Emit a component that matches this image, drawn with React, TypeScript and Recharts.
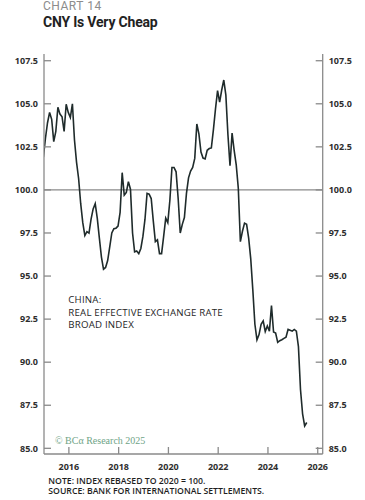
import { LineChart, Line, XAxis, YAxis, ReferenceLine } from 'recharts';

// China REER (broad, 2020 = 100), monthly readings
const reer2014 = [101.9]; // Dec only
const reer2015 = [103.0, 103.9, 104.5, 104.1, 102.8, 103.4, 104.8, 104.4, 104.25, 103.4, 104.97, 104.5];
const reer2016 = [104.2, 105.0, 102.9, 101.6, 100.65, 99.2, 98.1, 97.35, 97.58, 97.49, 98.3, 98.9];
const reer2017 = [99.2, 98.35, 97.2, 96.1, 95.4, 95.5, 95.9, 96.7, 97.5, 97.75, 97.78, 97.9];
const reer2018 = [98.7, 101.0, 99.7, 99.85, 100.48, 100.04, 97.5, 96.4, 96.45, 96.3, 96.6, 97.3];
const reer2019 = [98.3, 99.8, 99.75, 99.5, 98.2, 97.0, 97.1, 96.3, 96.3, 97.3, 98.36, 98.1];
const reer2020 = [99.4, 101.3, 101.3, 101.05, 99.5, 97.5, 98.0, 98.4, 99.8, 100.7, 101.1, 101.3];
const reer2021 = [101.83, 103.83, 103.25, 102.2, 101.85, 101.8, 102.3, 102.4, 102.44, 103.5, 104.7, 105.76];
const reer2022 = [105.1, 105.8, 106.38, 105.5, 103.2, 101.4, 103.3, 102.3, 101.45, 100.1, 97.0, 97.6];
const reer2023 = [98.07, 98.0, 97.2, 96.0, 94.2, 92.2, 91.3, 91.6, 92.2, 92.4, 91.78, 92.1];
const reer2024 = [91.8, 93.28, 91.75, 91.69, 91.15, 91.25, 91.3, 91.38, 91.45, 91.9, 91.85, 91.8];
const reer2025 = [91.9, 91.8, 90.9, 88.4, 87.0, 86.3, 86.5];

const yearTicks = [2016, 2018, 2020, 2022, 2024, 2026];
const valueTicks = [85, 87.5, 90, 92.5, 95, 97.5, 100, 102.5, 105, 107.5];

// [year, first month index, values]; observations sit late in each month
const series: [number, number, number[]][] = [
    [2014, 11, reer2014],
    [2015, 0, reer2015],
    [2016, 0, reer2016],
    [2017, 0, reer2017],
    [2018, 0, reer2018],
    [2019, 0, reer2019],
    [2020, 0, reer2020],
    [2021, 0, reer2021],
    [2022, 0, reer2022],
    [2023, 0, reer2023],
    [2024, 0, reer2024],
    [2025, 0, reer2025],
];

const data = series.flatMap(([year, first, vals]) =>
    vals.map((v, m) => ({ t: year + (first + m + 0.7) / 12, reer: v }))
);

const frame = '#8a8a8a';
const ink = '#2e2e2e';
const tickFont = { fontFamily: '"Open Sans", sans-serif', fontSize: 9, fontWeight: 700, fill: ink };

const BottomTick = (props: any) => {
    const { x, y, payload } = props;
    return (
        <g>
            <line x1={x} x2={x} y1={y} y2={y - 7} stroke={frame} strokeWidth={1.3} />
            <text x={x} y={y + 16} textAnchor="middle" {...tickFont}>{payload.value}</text>
        </g>
    );
};

const LeftTick = (props: any) => {
    const { x, y, payload } = props;
    return (
        <g>
            <line x1={x} x2={x + 7} y1={y} y2={y} stroke={frame} strokeWidth={1.3} />
            <text x={x - 6} y={y + 3.2} textAnchor="end" {...tickFont}>{payload.value.toFixed(1)}</text>
        </g>
    );
};

const RightTick = (props: any) => {
    const { x, y, payload } = props;
    return (
        <g>
            <line x1={x} x2={x - 7} y1={y} y2={y} stroke={frame} strokeWidth={1.3} />
            <text x={x + 6} y={y + 3.2} textAnchor="start" {...tickFont}>{payload.value.toFixed(1)}</text>
        </g>
    );
};

const yDomain = [84.67, 107.89];
const xDomain = [2015, 2026.2];

export default function App() {
    return (
        <div style={{ position: 'absolute', left: 0, top: 0, width: 365, height: 500, background: '#fff' }}>
            <LineChart width={365} height={500} data={data} margin={{ top: 54, right: 0, bottom: 0, left: 0 }}>
                <XAxis
                    dataKey="t"
                    type="number"
                    domain={xDomain}
                    allowDataOverflow
                    ticks={yearTicks}
                    height={46}
                    tickSize={0}
                    tickMargin={0}
                    tickLine={false}
                    axisLine={{ stroke: frame, strokeWidth: 1.3 }}
                    tick={<BottomTick />}
                    interval={0}
                />
                <XAxis
                    xAxisId="top"
                    orientation="top"
                    dataKey="t"
                    type="number"
                    domain={xDomain}
                    allowDataOverflow
                    height={0}
                    tick={false}
                    tickLine={false}
                    axisLine={{ stroke: frame, strokeWidth: 1.3 }}
                />
                <YAxis
                    yAxisId="left"
                    type="number"
                    domain={yDomain}
                    allowDataOverflow
                    ticks={valueTicks}
                    width={44}
                    tickSize={0}
                    tickMargin={0}
                    tickLine={false}
                    axisLine={{ stroke: frame, strokeWidth: 1.3 }}
                    tick={<LeftTick />}
                    interval={0}
                />
                <YAxis
                    yAxisId="right"
                    orientation="right"
                    type="number"
                    domain={yDomain}
                    allowDataOverflow
                    ticks={valueTicks}
                    width={42.3}
                    tickSize={0}
                    tickMargin={0}
                    tickLine={false}
                    axisLine={{ stroke: frame, strokeWidth: 1.3 }}
                    tick={<RightTick />}
                    interval={0}
                />
                <ReferenceLine yAxisId="left" y={100} stroke={frame} strokeWidth={1.3} />
                <Line
                    yAxisId="left"
                    dataKey="reer"
                    type="linear"
                    stroke="#1f2b2b"
                    strokeWidth={1.6}
                    dot={false}
                    activeDot={false}
                    isAnimationActive={false}
                />
            </LineChart>
            <svg width={365} height={500} style={{ position: 'absolute', left: 0, top: 0, pointerEvents: 'none' }}>
                <text x={43} y={9.5} fontFamily="Roboto, sans-serif" fontSize={12} letterSpacing={0.5} fill="#8c8c8c">CHART 14</text>
                <text x={43} y={26.7} fontFamily="Roboto, sans-serif" fontSize={14} fontWeight={700} letterSpacing={-0.2} fill="#222">CNY Is Very Cheap</text>
                <g fontFamily='"Open Sans", sans-serif' fontSize={9.7} fontWeight={500} fill="#262626" letterSpacing={0.2}>
                    <text x={68.3} y={303.3}>CHINA:</text>
                    <text x={68.3} y={315.5}>REAL EFFECTIVE EXCHANGE RATE</text>
                    <text x={68.3} y={327.7}>BROAD INDEX</text>
                </g>
                <text x={55} y={443.5} fontFamily='"Liberation Serif", serif' fontSize={10} fill="#6fa487">© BCα Research 2025</text>
                <g fontFamily='"Open Sans", sans-serif' fontSize={8.7} fontWeight={600} fill="#1e1e1e">
                    <text x={48.3} y={483.5}>NOTE: INDEX REBASED TO 2020 = 100.</text>
                    <text x={48.3} y={494}>SOURCE: BANK FOR INTERNATIONAL SETTLEMENTS.</text>
                </g>
            </svg>
        </div>
    );
}
